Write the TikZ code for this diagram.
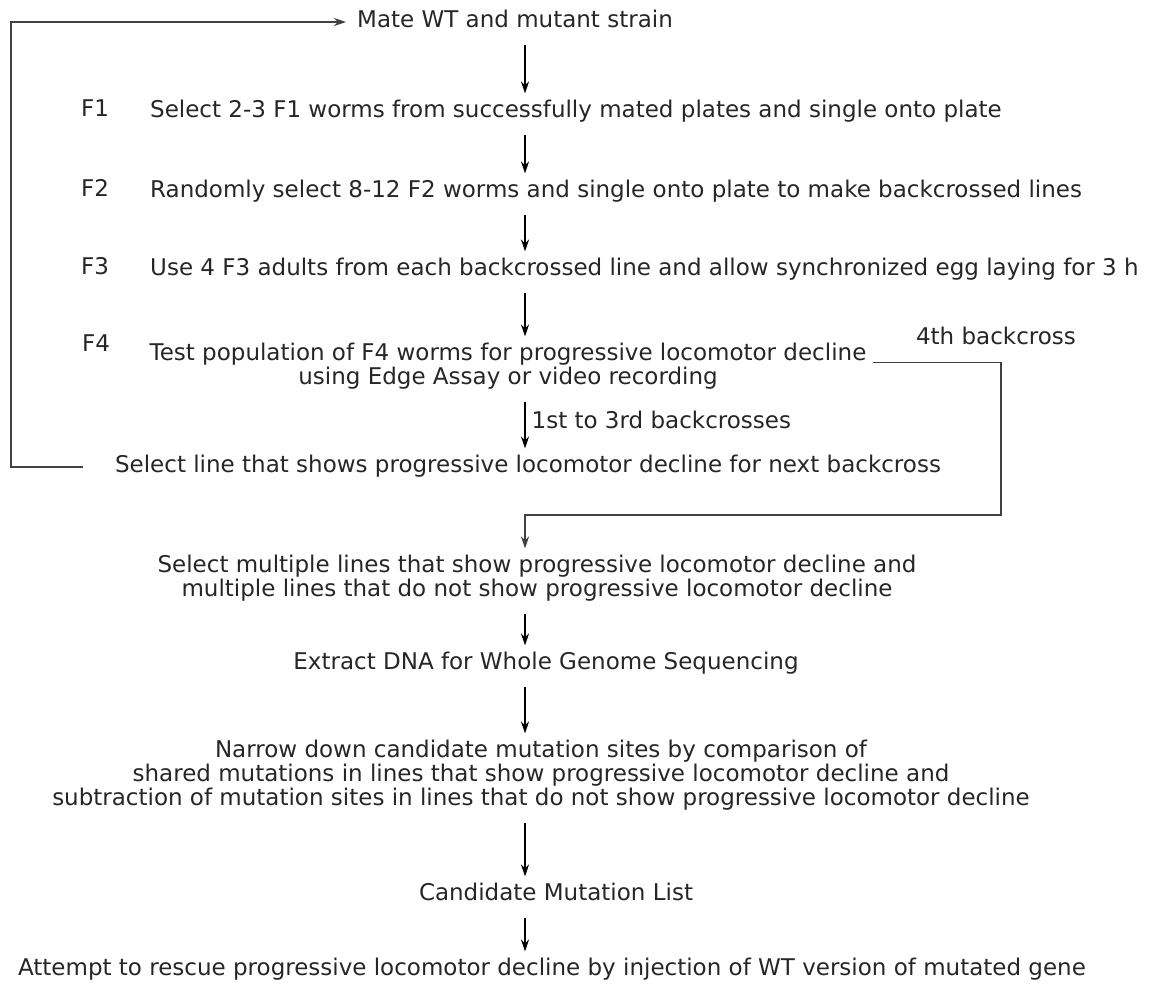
\documentclass[tikz,border=0pt]{standalone}
\usepackage{fontspec}
\setmainfont{DejaVu Sans}
\usetikzlibrary{arrows.meta, calc}

\begin{document}
\begin{tikzpicture}[
        x=1pt, y=-1pt,
        >={Stealth[length=12pt, width=8pt]},
        every node/.style={
            font=\fontsize{23}{24}\selectfont,
            text=black!85,
            inner sep=0pt,
            execute at begin node=\strut,
            execute at end node=\strut
        },
        stepline/.style={anchor=west},
        gen/.style={anchor=center},
        flow/.style={->, line width=1.3pt, black, shorten <=10pt, shorten >=6pt},
        loop/.style={->, line width=1.4pt, black!75}
    ]
        \useasboundingbox (0,0) rectangle (1159,983);
        \coordinate (ax) at (525,0);

        % Crossing steps
        \node[anchor=west] (mate) at (357,22) {Mate WT and mutant strain};
        \node[gen] (F1) at (95,112) {F1};
        \node[stepline] (s1) at (150,112) {Select 2-3 F1 worms from successfully mated plates and single onto plate};
        \node[gen] (F2) at (95,192) {F2};
        \node[stepline] (s2) at (150,192) {Randomly select 8-12 F2 worms and single onto plate to make backcrossed lines};
        \node[gen] (F3) at (95,270) {F3};
        \node[stepline] (s3) at (150,270) {Use 4 F3 adults from each backcrossed line and allow synchronized egg laying for 3 h};
        \node[gen] (F4) at (96,347) {F4};
        \node[align=center] (test) at (508,367) {Test population of F4 worms for progressive locomotor decline\\using Edge Assay or video recording};
        \node (fourth) at (996,339) {4th backcross};
        \node (selnext) at (528,467) {Select line that shows progressive locomotor decline for next backcross};

        % Mapping steps
        \node[align=center] (selmulti) at (537,579) {Select multiple lines that show progressive locomotor decline and\\multiple lines that do not show progressive locomotor decline};
        \node (extract) at (546,664) {Extract DNA for Whole Genome Sequencing};
        \node[align=center] (narrow) at (541,776) {Narrow down candidate mutation sites by comparison of\\shared mutations in lines that show progressive locomotor decline and\\subtraction of mutation sites in lines that do not show progressive locomotor decline};
        \node (cand) at (556,895) {Candidate Mutation List};
        \node (rescue) at (552,970) {Attempt to rescue progressive locomotor decline by injection of WT version of mutated gene};

        % Downward arrows
        \draw[flow] (mate.south -| ax) -- (s1.north -| ax);
        \draw[flow] (s1.south -| ax) -- (s2.north -| ax);
        \draw[flow] (s2.south -| ax) -- (s3.north -| ax);
        \draw[flow] (s3.south -| ax) -- (test.north -| ax);
        \draw[flow] (test.south -| ax) -- node[right=6pt] (bc13) {1st to 3rd backcrosses} (selnext.north -| ax);
        \draw[flow] (selmulti.south -| ax) -- (extract.north -| ax);
        \draw[flow] (extract.south -| ax) -- (narrow.north -| ax);
        \draw[flow] (narrow.south -| ax) -- (cand.north -| ax);
        \draw[flow] (cand.south -| ax) -- (rescue.north -| ax);

        % Backcross loops
        \coordinate (back) at (11,240);
        \coordinate (side) at (1001,515);
        \draw[loop, shorten <=32pt, shorten >=11pt] (selnext.west) -| (back) |- (mate.west);
        \draw[loop, shorten <=6pt, shorten >=6pt] ([yshift=-20pt]test.north east) -| (side) -| (selmulti.north -| ax);
    \end{tikzpicture}
\end{document}
